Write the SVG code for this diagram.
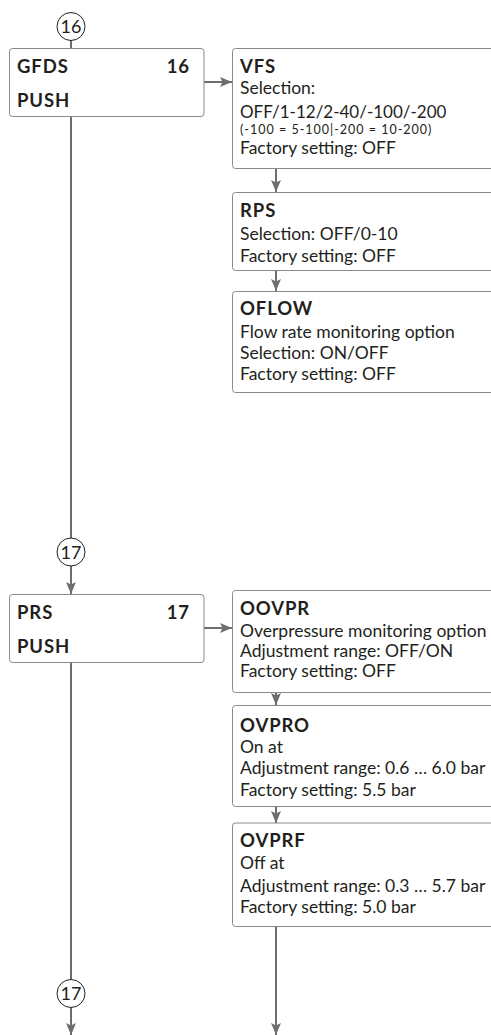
<svg xmlns="http://www.w3.org/2000/svg" width="491" height="1035" viewBox="0 0 491 1035">
<defs>
<marker id="ah" viewBox="0 0 12 10" refX="12" refY="5" markerWidth="12" markerHeight="10" markerUnits="userSpaceOnUse" orient="auto">
<path d="M0,0 L12,5 L0,10 L2.5,5 Z" fill="#6d6e71"/>
</marker>
<style>
.box{fill:#fff;stroke:#8a8a8c;stroke-width:1}
.t{font-family:Lato,"Open Sans","Liberation Sans",sans-serif;fill:#231f20;font-size:17.5px}
.b{font-weight:bold;font-size:18.5px;letter-spacing:0.9px}
.c{fill:#fff;stroke:#231f20;stroke-width:1}
.cn{font-family:Lato,"Liberation Sans",sans-serif;fill:#231f20;font-size:18px;text-anchor:middle}
.ln{stroke:#6d6e71;stroke-width:2;fill:none}
.ar{marker-end:url(#ah)}
</style>
</defs>
<g id="connectors">
<line class="ln" x1="71" y1="40" x2="71" y2="48"/>
<line class="ln ar" x1="204" y1="82" x2="232" y2="82"/>
<line class="ln" x1="71" y1="117" x2="71" y2="538"/>
<line class="ln ar" x1="71" y1="566" x2="71" y2="594"/>
<line class="ln ar" x1="276" y1="169" x2="276" y2="192"/>
<line class="ln ar" x1="276" y1="271" x2="276" y2="291"/>
<line class="ln ar" x1="204" y1="628" x2="232" y2="628"/>
<line class="ln ar" x1="276" y1="693" x2="276" y2="705"/>
<line class="ln ar" x1="276" y1="807" x2="276" y2="823"/>
<line class="ln ar" x1="276" y1="927" x2="276" y2="1035"/>
<line class="ln" x1="71" y1="662" x2="71" y2="979"/>
<line class="ln ar" x1="71" y1="1008" x2="71" y2="1035"/>
</g>
<g id="c16">
<circle class="c" cx="71" cy="26.5" r="14"/>
<text class="cn" x="71" y="33">16</text>
</g>
<g id="gfds">
<rect class="box" x="9.5" y="48.5" width="194.5" height="68" rx="3"/>
<text class="t b" x="17" y="73">GFDS</text>
<text class="t b" x="190" y="73" text-anchor="end">16</text>
<text class="t b" x="17" y="107">PUSH</text>
</g>
<g id="vfs">
<rect class="box" x="232.5" y="48.5" width="300" height="120" rx="3"/>
<text class="t b" x="240" y="72.5">VFS</text>
<text class="t" x="240" y="94">Selection:</text>
<text class="t" x="240" y="117.5" style="font-size:17px">OFF/1-12/2-40/-100/-200</text>
<text class="t" x="240" y="133.6" style="font-size:12.5px;letter-spacing:1px">(-100 = 5-100|-200 = 10-200)</text>
<text class="t" x="240" y="153.8">Factory setting: OFF</text>
</g>
<g id="rps">
<rect class="box" x="232.5" y="192.5" width="300" height="78" rx="3"/>
<text class="t b" x="240" y="216.5">RPS</text>
<text class="t" x="240" y="239.5">Selection: OFF/0-10</text>
<text class="t" x="240" y="261.5">Factory setting: OFF</text>
</g>
<g id="oflow">
<rect class="box" x="232.5" y="291.5" width="300" height="101" rx="3"/>
<text class="t b" x="240" y="315">OFLOW</text>
<text class="t" x="240" y="338">Flow rate monitoring option</text>
<text class="t" x="240" y="359">Selection: ON/OFF</text>
<text class="t" x="240" y="380">Factory setting: OFF</text>
</g>
<g id="c17a">
<circle class="c" cx="71" cy="552" r="14"/>
<text class="cn" x="71" y="558.5">17</text>
</g>
<g id="prs">
<rect class="box" x="9.5" y="594.5" width="194.5" height="68" rx="3"/>
<text class="t b" x="17" y="618.5">PRS</text>
<text class="t b" x="190" y="618.5" text-anchor="end">17</text>
<text class="t b" x="17" y="653">PUSH</text>
</g>
<g id="oovpr">
<rect class="box" x="232.5" y="590.5" width="300" height="102" rx="3"/>
<text class="t b" x="240" y="615">OOVPR</text>
<text class="t" x="240" y="636.5">Overpressure monitoring option</text>
<text class="t" x="240" y="657">Adjustment range: OFF/ON</text>
<text class="t" x="240" y="677">Factory setting: OFF</text>
</g>
<g id="ovpro">
<rect class="box" x="232.5" y="705.5" width="300" height="101" rx="3"/>
<text class="t b" x="240" y="731.5">OVPRO</text>
<text class="t" x="240" y="753">On at</text>
<text class="t" x="240" y="774">Adjustment range: 0.6 … 6.0 bar</text>
<text class="t" x="240" y="796">Factory setting: 5.5 bar</text>
</g>
<g id="ovprf">
<rect class="box" x="232.5" y="823" width="300" height="103.5" rx="3"/>
<text class="t b" x="240" y="846.5">OVPRF</text>
<text class="t" x="240" y="869">Off at</text>
<text class="t" x="240" y="891.5">Adjustment range: 0.3 … 5.7 bar</text>
<text class="t" x="240" y="913">Factory setting: 5.0 bar</text>
</g>
<g id="c17b">
<circle class="c" cx="71" cy="993.5" r="14"/>
<text class="cn" x="71" y="1000">17</text>
</g>
</svg>
